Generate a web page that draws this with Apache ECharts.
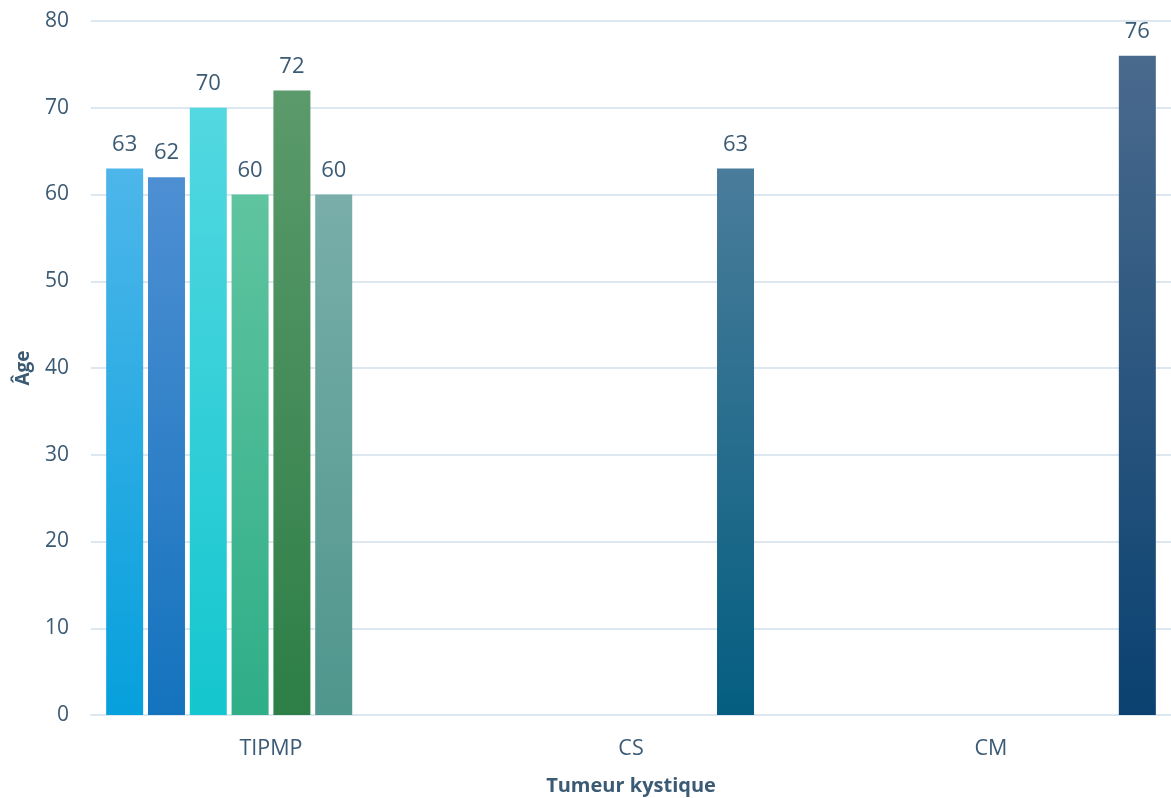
<!DOCTYPE html>
<html>
<head>
<meta charset="utf-8">
<script src="https://cdn.jsdelivr.net/npm/echarts@6/dist/echarts.min.js"></script>
<style>html,body{margin:0;padding:0;background:#fff}#c{width:1171px;height:798px}</style>
</head>
<body>
<div id="c"></div>
<script>
const categories = ['TIPMP', 'CS', 'CM'];
const s1 = [63, null, null];
const s2 = [62, null, null];
const s3 = [70, null, null];
const s4 = [60, null, null];
const s5 = [72, null, null];
const s6 = [60, null, null];
const s7 = [null, 63, null];
const s8 = [null, null, 76];
const seriesData = [s1, s2, s3, s4, s5, s6, s7, s8];
const colorPairs = [
  ['#4db6ea', '#06a0dc'],
  ['#4e8fd3', '#1473bd'],
  ['#53d8e1', '#14c6cf'],
  ['#5fc4a0', '#2fae87'],
  ['#5b9a6b', '#2d7e47'],
  ['#79aeaa', '#4f968d'],
  ['#4a7c9b', '#045e80'],
  ['#4a6a8d', '#0a4170']
];
const txt = '#3b5a74';
const chart = echarts.init(document.getElementById('c'));
chart.setOption({
  animation: false,
  grid: { left: 91, right: 0, top: 21, bottom: 83, outerBoundsMode: 'none', containLabel: false },
  xAxis: {
    type: 'category',
    data: categories,
    name: 'Tumeur kystique',
    nameLocation: 'middle',
    nameGap: 61,
    nameMoveOverlap: false,
    nameTextStyle: { color: txt, fontSize: 20, fontWeight: 'bold', fontFamily: 'Open Sans' },
    axisLine: { show: true, lineStyle: { color: '#dce7ef', width: 2 } },
    axisTick: { show: false },
    axisLabel: { color: txt, fontSize: 21.5, margin: 23, fontFamily: 'Open Sans' }
  },
  yAxis: {
    type: 'value',
    min: 0, max: 80, interval: 10,
    name: 'Âge',
    nameLocation: 'middle',
    nameGap: 58,
    nameMoveOverlap: false,
    nameRotate: 90,
    nameTextStyle: { color: txt, fontSize: 19, fontWeight: 'bold', fontFamily: 'Open Sans' },
    axisLine: { show: false },
    axisTick: { show: false },
    axisLabel: { color: txt, fontSize: 21, margin: 22, fontFamily: 'Open Sans' },
    splitLine: { lineStyle: { color: '#dce7ef', width: 2 } }
  },
  series: seriesData.map((d, i) => ({
    type: 'bar',
    data: d,
    barWidth: 37,
    barGap: '13%',
    itemStyle: {
      color: new echarts.graphic.LinearGradient(0, 0, 0, 1, [
        { offset: 0, color: colorPairs[i][0] },
        { offset: 1, color: colorPairs[i][1] }
      ])
    },
    label: {
      show: true,
      position: 'top',
      distance: 13,
      color: txt,
      fontSize: 22,
      fontFamily: 'Open Sans'
    }
  }))
});
</script>
</body>
</html>
